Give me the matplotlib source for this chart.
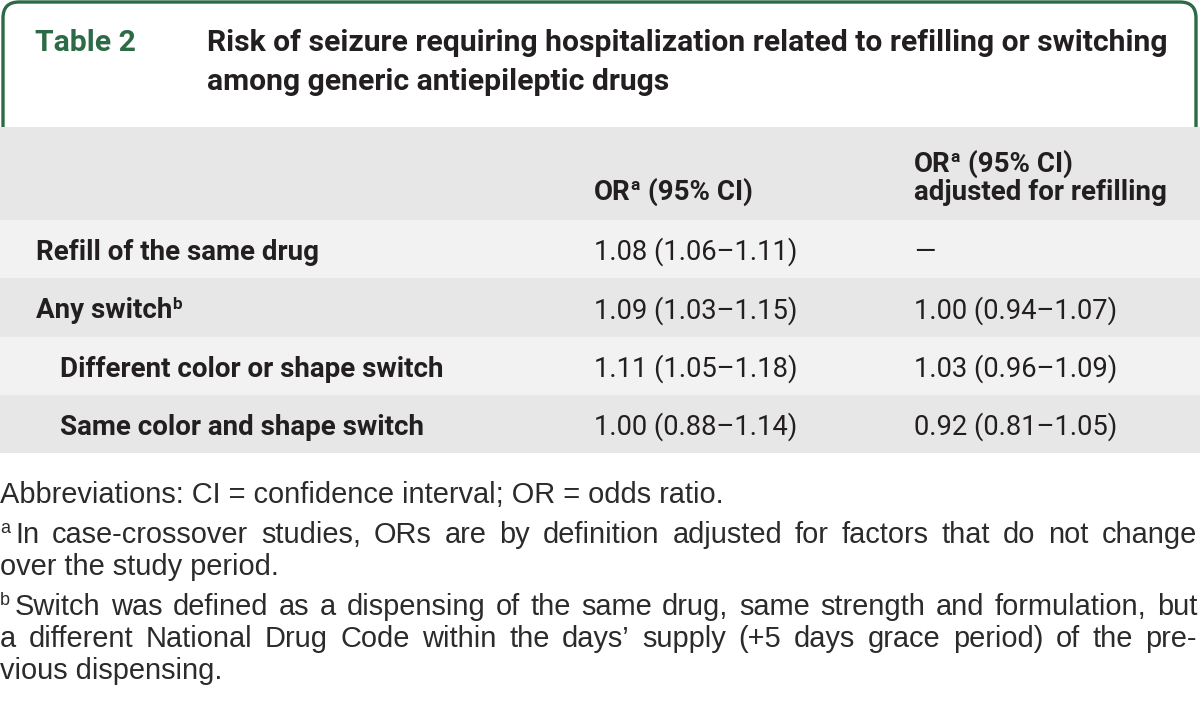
import matplotlib.pyplot as plt
from matplotlib.patches import Rectangle, PathPatch
from matplotlib.path import Path

# ---- table content ----
table_no = "Table 2"
title_lines = [
    "Risk of seizure requiring hospitalization related to refilling or switching",
    "among generic antiepileptic drugs",
]
head_col1 = ["OR{a} (95% CI)"]
head_col2 = ["OR{a} (95% CI)", "adjusted for refilling"]

row_labels = [
    "Refill of the same drug",
    "Any switch{b}",
    "Different color or shape switch",
    "Same color and shape switch",
]
row_indent = [0, 0, 1, 1]
or_crude = ["1.08 (1.06–1.11)", "1.09 (1.03–1.15)", "1.11 (1.05–1.18)", "1.00 (0.88–1.14)"]
or_adjusted = ["—", "1.00 (0.94–1.07)", "1.03 (0.96–1.09)", "0.92 (0.81–1.05)"]

# footnote lines, True = justified to full width
footnotes = [
    ("Abbreviations: CI = confidence interval; OR = odds ratio.", False),
    ("{a}In case-crossover studies, ORs are by definition adjusted for factors that do not change", True),
    ("over the study period.", False),
    ("{b}Switch was defined as a dispensing of the same drug, same strength and formulation, but", True),
    ("a different National Drug Code within the days’ supply (+5 days grace period) of the pre-", True),
    ("vious dispensing.", False),
]

GREEN = "#2c6b45"
TEXT = "#231f20"
NOTE_TEXT = "#2b2b2b"
HEAD_BG = "#e6e7e6"
ROW_BG = ["#f2f2f2", "#e6e7e6"]
TABLE_FONT = "Roboto"
NOTE_FONT = "Liberation Sans"

fig = plt.figure(figsize=(12, 7.08), dpi=100)
ax = fig.add_axes([0, 0, 1, 1])
ax.set_xlim(0, 1200)
ax.set_ylim(708, 0)
ax.axis("off")
renderer = fig.canvas.get_renderer()


def width_of(s, **kw):
    t = ax.text(0, 0, s, **kw)
    w = t.get_window_extent(renderer).width
    t.remove()
    return w


def fit_size(s, target, **kw):
    # font size that makes s about target pixels wide
    return 20 * target / width_of(s, fontsize=20, **kw)


def parse(s):
    # split "OR{a} text" into (piece, is_superscript) parts
    parts = []
    while "{" in s:
        pre, rest = s.split("{", 1)
        sup, s = rest.split("}", 1)
        if pre:
            parts.append((pre, False))
        parts.append((sup, True))
    if s:
        parts.append((s, False))
    return parts


def rich(x, y, s, size, weight="normal", family=TABLE_FONT, color=TEXT, sup_gap=1.0):
    for piece, sup in parse(s):
        kw = dict(fontsize=size * (0.62 if sup else 1.0), fontweight=weight,
                  family=family, color=color, va="baseline", ha="left")
        yy = y - size * 0.48 if sup else y
        ax.text(x, yy, piece, **kw)
        x += width_of(piece, **kw) + (sup_gap if sup else 0)
    return x


def justified(x0, x1, y, s, size, family=NOTE_FONT, color=NOTE_TEXT, sup_gap=5):
    words = s.split(" ")
    kw = dict(fontsize=size, family=family)
    widths = []
    for w in words:
        tot = 0
        for piece, sup in parse(w):
            k = dict(kw, fontsize=size * (0.62 if sup else 1.0))
            tot += width_of(piece, **k) + (sup_gap if sup else 0)
        widths.append(tot)
    gap = (x1 - x0 - sum(widths)) / (len(words) - 1)
    x = x0
    for w, wd in zip(words, widths):
        rich(x, y, w, size, family=family, color=color, sup_gap=sup_gap)
        x += wd + gap


# sizes fitted to the widths seen in the original
title_size = fit_size(title_lines[0], 958, fontweight="bold", family=TABLE_FONT)
bold_size = fit_size(row_labels[2], 383, fontweight="bold", family=TABLE_FONT)
num_size = fit_size(or_crude[0], 204, family=TABLE_FONT)
note_size = fit_size(footnotes[4][0], 1125, family=NOTE_FONT)

# ---- header frame ----
x0, x1, ytop, ybot, r = 3, 1196, 2, 127, 16
verts = [(x0, ybot), (x0, ytop + r), (x0, ytop), (x0 + r, ytop),
         (x1 - r, ytop), (x1, ytop), (x1, ytop + r), (x1, ybot)]
codes = [Path.MOVETO, Path.LINETO, Path.CURVE3, Path.CURVE3,
         Path.LINETO, Path.CURVE3, Path.CURVE3, Path.LINETO]
ax.add_patch(PathPatch(Path(verts, codes), fill=False, edgecolor=GREEN, lw=2.4))

ax.text(35, 51, table_no, fontsize=title_size, fontweight="bold", family=TABLE_FONT,
        color=GREEN, va="baseline")
for i, line in enumerate(title_lines):
    ax.text(207, 51 + 39 * i, line, fontsize=title_size, fontweight="bold",
            family=TABLE_FONT, color=TEXT, va="baseline")

# ---- table body ----
ax.add_patch(Rectangle((0, 127), 1200, 93, color=HEAD_BG, lw=0))
col_x = [36, 594, 914]
rich(col_x[1], 200, head_col1[0], bold_size, weight="bold")
for i, line in enumerate(head_col2):
    rich(col_x[2], 172 + 28 * i, line, bold_size, weight="bold")

row_top, row_h = 220, 58.3
for i, label in enumerate(row_labels):
    top = row_top + row_h * i
    ax.add_patch(Rectangle((0, top), 1200, row_h, color=ROW_BG[i % 2], lw=0))
    base = top + 40
    rich(col_x[0] + 24 * row_indent[i], base, label, bold_size, weight="bold")
    ax.text(col_x[1], base, or_crude[i], fontsize=num_size, family=TABLE_FONT,
            color=TEXT, va="baseline")
    ax.text(col_x[2], base, or_adjusted[i], fontsize=num_size, family=TABLE_FONT,
            color=TEXT, va="baseline")

# ---- footnotes ----
note_base = [503, 543, 575, 615, 647, 679]
for (line, just), yb in zip(footnotes, note_base):
    if just:
        justified(0, 1197, yb, line, note_size)
    else:
        rich(0, yb, line, note_size, family=NOTE_FONT, color=NOTE_TEXT, sup_gap=5)

fig.savefig("out.png", dpi=100)
